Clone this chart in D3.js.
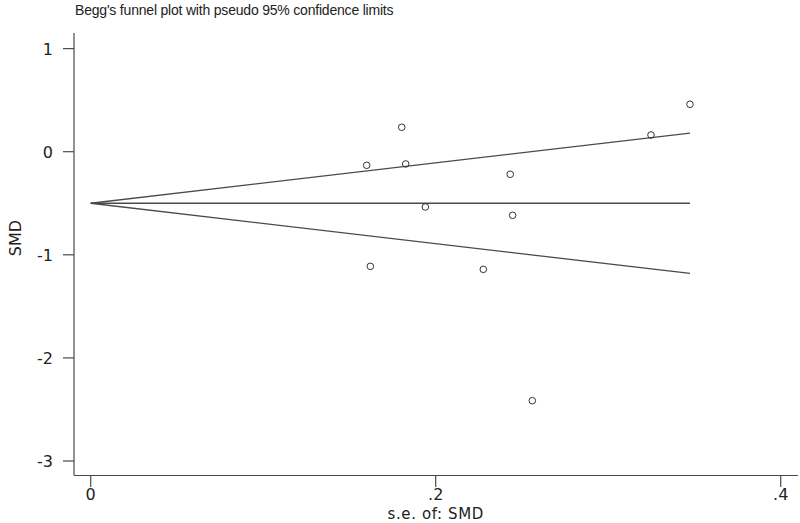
<!DOCTYPE html>
<html>
<head>
<meta charset="utf-8">
<script src="https://cdnjs.cloudflare.com/ajax/libs/d3/7.8.5/d3.min.js"></script>
<style>
  body { margin: 0; background: #fff; }
  svg { display: block; font-family: "DejaVu Sans", Arial, sans-serif; }
</style>
</head>
<body>
<div id="chart"></div>
<script>
// study standard errors and SMDs
var seValues = [0.160, 0.1803, 0.1826, 0.1621, 0.194, 0.2276, 0.2432, 0.2446, 0.256, 0.3248, 0.3474];
var smdValues = [-0.132, 0.237, -0.119, -1.112, -0.536, -1.141, -0.219, -0.617, -2.415, 0.162, 0.460];
var pooled = -0.5;
var xTicks = [0, 0.2, 0.4];
var xTickLabels = ["0", ".2", ".4"];
var yTicks = [1, 0, -1, -2, -3];

var width = 800, height = 523;

//Make an SVG Container
var svg = d3.select("div#chart").append("svg")
    .attr("width", width)
    .attr("height", height);

var x = d3.scaleLinear().domain([0, 0.4]).range([90.7, 780.7]);
var y = d3.scaleLinear().domain([1, -3]).range([48.6, 461]);

var lineColor = "#4a4a4a";
var textColor = "#222";

// title
svg.append("text")
    .attr("x", 75)
    .attr("y", 15)
    .attr("font-family", "'Liberation Sans', Arial, sans-serif")
    .attr("font-size", 14)
    .attr("letter-spacing", -0.2)
    .attr("fill", textColor)
    .text("Begg's funnel plot with pseudo 95% confidence limits");

// y axis
svg.append("line")
    .attr("x1", 74).attr("x2", 74)
    .attr("y1", 33).attr("y2", 475.5)
    .attr("stroke", lineColor).attr("stroke-width", 1.2);

svg.selectAll(".ytick").data(yTicks).enter().append("line")
    .attr("x1", 63).attr("x2", 74)
    .attr("y1", function(d) { return y(d); })
    .attr("y2", function(d) { return y(d); })
    .attr("stroke", lineColor).attr("stroke-width", 1.2);

svg.selectAll(".ylab").data(yTicks).enter().append("text")
    .attr("x", 53)
    .attr("y", function(d) { return y(d) + 6; })
    .attr("text-anchor", "end")
    .attr("font-size", 16)
    .attr("fill", textColor)
    .text(function(d) { return d; });

svg.append("text")
    .attr("transform", "translate(21,238) rotate(-90)")
    .attr("text-anchor", "middle")
    .attr("font-size", 16)
    .attr("fill", textColor)
    .text("SMD");

// x axis
svg.append("line")
    .attr("x1", 74).attr("x2", 798)
    .attr("y1", 475.5).attr("y2", 475.5)
    .attr("stroke", lineColor).attr("stroke-width", 1.2);

svg.selectAll(".xtick").data(xTicks).enter().append("line")
    .attr("x1", function(d) { return x(d); })
    .attr("x2", function(d) { return x(d); })
    .attr("y1", 475.5).attr("y2", 487)
    .attr("stroke", lineColor).attr("stroke-width", 1.2);

svg.selectAll(".xlab").data(xTicks).enter().append("text")
    .attr("x", function(d) { return x(d); })
    .attr("y", 500)
    .attr("text-anchor", "middle")
    .attr("font-size", 16)
    .attr("fill", textColor)
    .text(function(d, i) { return xTickLabels[i]; });

svg.append("text")
    .attr("x", x(0.2))
    .attr("y", 519)
    .attr("text-anchor", "middle")
    .attr("font-size", 15)
    .attr("letter-spacing", 0.6)
    .attr("fill", textColor)
    .text("s.e. of: SMD");

// funnel: pooled line and pseudo 95% limits
var maxSe = d3.max(seValues);
var funnel = [
    [[0, pooled], [maxSe, pooled]],
    [[0, pooled], [maxSe, pooled + 1.96 * maxSe]],
    [[0, pooled], [maxSe, pooled - 1.96 * maxSe]]
];
var line = d3.line()
    .x(function(d) { return x(d[0]); })
    .y(function(d) { return y(d[1]); });

svg.selectAll(".funnel").data(funnel).enter().append("path")
    .attr("d", line)
    .attr("fill", "none")
    .attr("stroke", lineColor)
    .attr("stroke-width", 1.3);

// studies
svg.selectAll(".pt").data(seValues).enter().append("circle")
    .attr("cx", function(d) { return x(d); })
    .attr("cy", function(d, i) { return y(smdValues[i]); })
    .attr("r", 3.3)
    .attr("fill", "none")
    .attr("stroke", "#333")
    .attr("stroke-width", 1);
</script>
</body>
</html>
